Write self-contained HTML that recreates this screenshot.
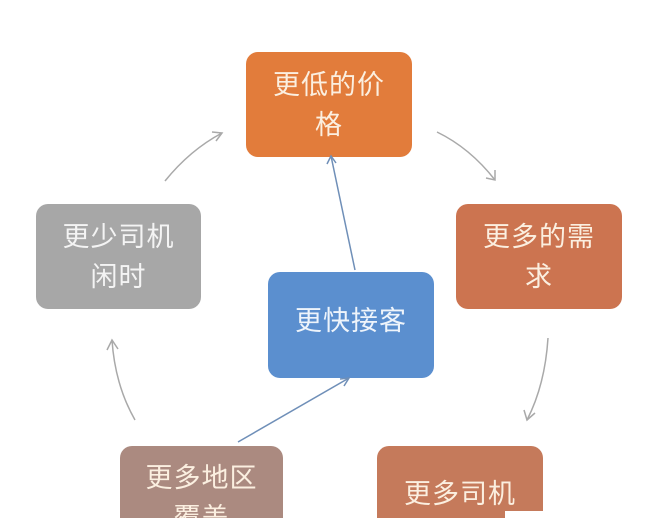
<!DOCTYPE html>
<html><head><meta charset="utf-8"><style>
html,body{margin:0;width:648px;height:518px;overflow:hidden;background:#fff}
body{position:relative;font-family:"Liberation Sans","Noto Sans CJK SC",sans-serif}
.b{position:absolute;border-radius:12px;color:#fbefe0;font-size:27px;line-height:40px;text-align:center;display:flex;align-items:center;justify-content:center;box-sizing:border-box;padding:0 10px;letter-spacing:1px;overflow:hidden}
svg{position:absolute;left:0;top:0}
</style></head><body>
<div class="b" style="left:246px;top:52px;width:166px;height:105px;background:#e27c3b">更低的价<br>格</div>
<div class="b" style="left:456px;top:204px;width:166px;height:105px;background:#cc7450">更多的需<br>求</div>
<div class="b" style="left:36px;top:204px;width:165px;height:105px;background:#a7a7a7;color:#f4f4f4">更少司机<br>闲时</div>
<div class="b" style="left:268px;top:272px;width:166px;height:106px;background:#5b8fcf;color:#eef4fb;padding-bottom:8px">更快接客</div>
<div class="b" style="left:120px;top:446px;width:163px;height:72px;border-radius:12px 12px 0 0;background:#ab8a80;align-items:flex-start;padding-top:12px">更多地区<br>覆盖</div>
<div class="b" style="left:377px;top:446px;width:166px;height:72px;border-radius:12px 12px 0 0;background:#c57a5b;align-items:flex-start;padding-top:28px">更多司机</div>
<svg width="648" height="518">
<g fill="none" stroke="#a9a9a9" stroke-width="1.5">
<path d="M165 181 Q190 150 222 133"/><path d="M212 132 L222 133 L216 141"/>
<path d="M437 132 Q470 148 495 180"/><path d="M486 178 L495 180 L495 170"/>
<path d="M548 338 Q545 385 527 420"/><path d="M524 410 L527 420 L535 413"/>
<path d="M135 420 Q115 385 112 340"/><path d="M107 350 L112 340 L118 349"/>
</g>
<g fill="none" stroke="#6f8fb8" stroke-width="1.5">
<path d="M355 270 L331 156"/><path d="M327 164 L331 156 L336 163"/>
<path d="M238 442 L349 378"/><path d="M340 379 L349 378 L344 386"/>
</g>
</svg>
<div style="position:absolute;left:505px;top:511px;width:143px;height:7px;background:#fff"></div>
</body></html>
